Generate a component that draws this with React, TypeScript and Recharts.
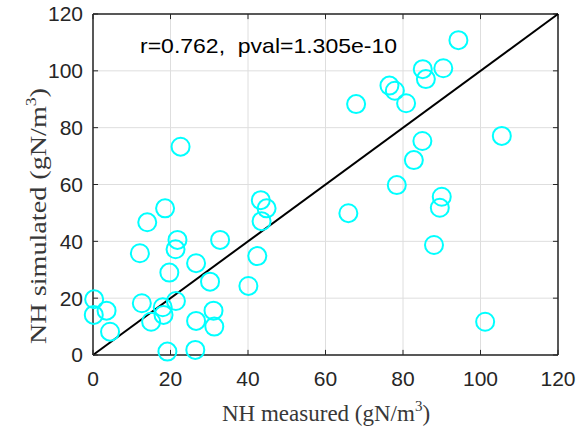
import { CartesianGrid, ReferenceLine, Scatter, ScatterChart, XAxis, YAxis } from "recharts";

const measured = [
  0.3, 0.2, 3.5, 4.4, 12.1, 14.0, 18.6, 12.6, 15.0, 18.0, 18.2, 19.2, 19.7, 21.4, 21.8, 21.3,
  26.6, 26.6, 26.4, 30.2, 31.1, 31.3, 32.8, 40.1, 42.4, 43.3, 44.8, 43.5, 22.6, 67.9, 76.5,
  77.9, 80.8, 85.1, 85.9, 90.4, 94.3, 105.5, 85.0, 82.8, 78.4, 65.9, 90.0, 89.5, 88.0, 101.2,
];
const simulated = [
  19.6, 14.1, 15.6, 8.2, 35.8, 46.7, 51.6, 18.2, 11.7, 16.8, 14.1, 1.2, 29.0, 19.0, 40.5, 37.2,
  32.3, 12.0, 1.8, 25.8, 15.6, 10.0, 40.5, 24.3, 34.8, 54.5, 51.6, 47.1, 73.3, 88.3, 94.8,
  93.0, 88.6, 100.6, 97.1, 100.9, 110.8, 77.1, 75.3, 68.6, 59.8, 49.9, 55.7, 51.8, 38.7, 11.7,
];
const ticks = [0, 20, 40, 60, 80, 100, 120];
const annotation = "r=0.762,  pval=1.305e-10";

const points = measured.map((x, i) => ({ x, y: simulated[i] }));

const AXIS = "#262626";
const LABEL = "#383838";
const tickFont = { fill: AXIS, fontSize: 21, fontFamily: "Liberation Sans, Arial, sans-serif" };

function Ring(props: any) {
  const { cx, cy } = props;
  return <circle cx={cx} cy={cy} r={9} fill="none" stroke="#00FFFF" strokeWidth={2} />;
}

export default function App() {
  return (
    <div style={{ position: "absolute", left: 0, top: 0, width: 581, height: 435, background: "#fff" }}>
      <ScatterChart width={581} height={435} margin={{ top: 14, right: 23, bottom: 0, left: 0 }}>
        <CartesianGrid stroke="#dedede" strokeWidth={1} />
        <XAxis
          type="number"
          dataKey="x"
          domain={[0, 120]}
          ticks={ticks}
          height={80}
          tickLine={false}
          tickSize={0}
          tickMargin={16}
          axisLine={{ stroke: AXIS, strokeWidth: 1.5 }}
          tick={tickFont}
        />
        <YAxis
          type="number"
          dataKey="y"
          domain={[0, 120]}
          ticks={ticks}
          width={93}
          tickLine={false}
          tickSize={0}
          tickMargin={10}
          axisLine={{ stroke: AXIS, strokeWidth: 1.5 }}
          tick={tickFont}
        />
        <ReferenceLine y={120} stroke={AXIS} strokeWidth={1.5} />
        <ReferenceLine x={120} stroke={AXIS} strokeWidth={1.5} />
        {ticks.map((t) => (
          <ReferenceLine key={"xb" + t} segment={[{ x: t, y: 0 }, { x: t, y: 1.8 }]} stroke={AXIS} />
        ))}
        {ticks.map((t) => (
          <ReferenceLine key={"xt" + t} segment={[{ x: t, y: 120 }, { x: t, y: 118.2 }]} stroke={AXIS} />
        ))}
        {ticks.map((t) => (
          <ReferenceLine key={"yl" + t} segment={[{ x: 0, y: t }, { x: 1.3, y: t }]} stroke={AXIS} />
        ))}
        {ticks.map((t) => (
          <ReferenceLine key={"yr" + t} segment={[{ x: 120, y: t }, { x: 118.7, y: t }]} stroke={AXIS} />
        ))}
        <Scatter data={points} shape={Ring} isAnimationActive={false} />
        <ReferenceLine segment={[{ x: 0, y: 0 }, { x: 120, y: 120 }]} stroke="#000" strokeWidth={2} />
      </ScatterChart>
      <svg width={581} height={435} style={{ position: "absolute", left: 0, top: 0, pointerEvents: "none" }}>
        <text
          x={140}
          y={53}
          fontSize={21}
          fontFamily="Liberation Sans, Arial, sans-serif"
          fill="#000"
          textLength={257}
          lengthAdjust="spacingAndGlyphs"
          style={{ whiteSpace: "pre" }}
        >
          {annotation}
        </text>
        <text
          x={222}
          y={421}
          fontSize={23}
          fontFamily="Liberation Serif, Times New Roman, serif"
          fill={LABEL}
        >
          NH measured (gN/m<tspan dy={-10} fontSize={15}>3</tspan><tspan dy={10}>)</tspan>
        </text>
        <text
          x={46}
          y={344}
          transform="rotate(-90 46 344)"
          fontSize={24}
          fontFamily="Liberation Serif, Times New Roman, serif"
          fill={LABEL}
          textLength={256}
          lengthAdjust="spacingAndGlyphs"
        >
          NH simulated (gN/m<tspan dy={-10} fontSize={15}>3</tspan><tspan dy={10}>)</tspan>
        </text>
      </svg>
    </div>
  );
}
